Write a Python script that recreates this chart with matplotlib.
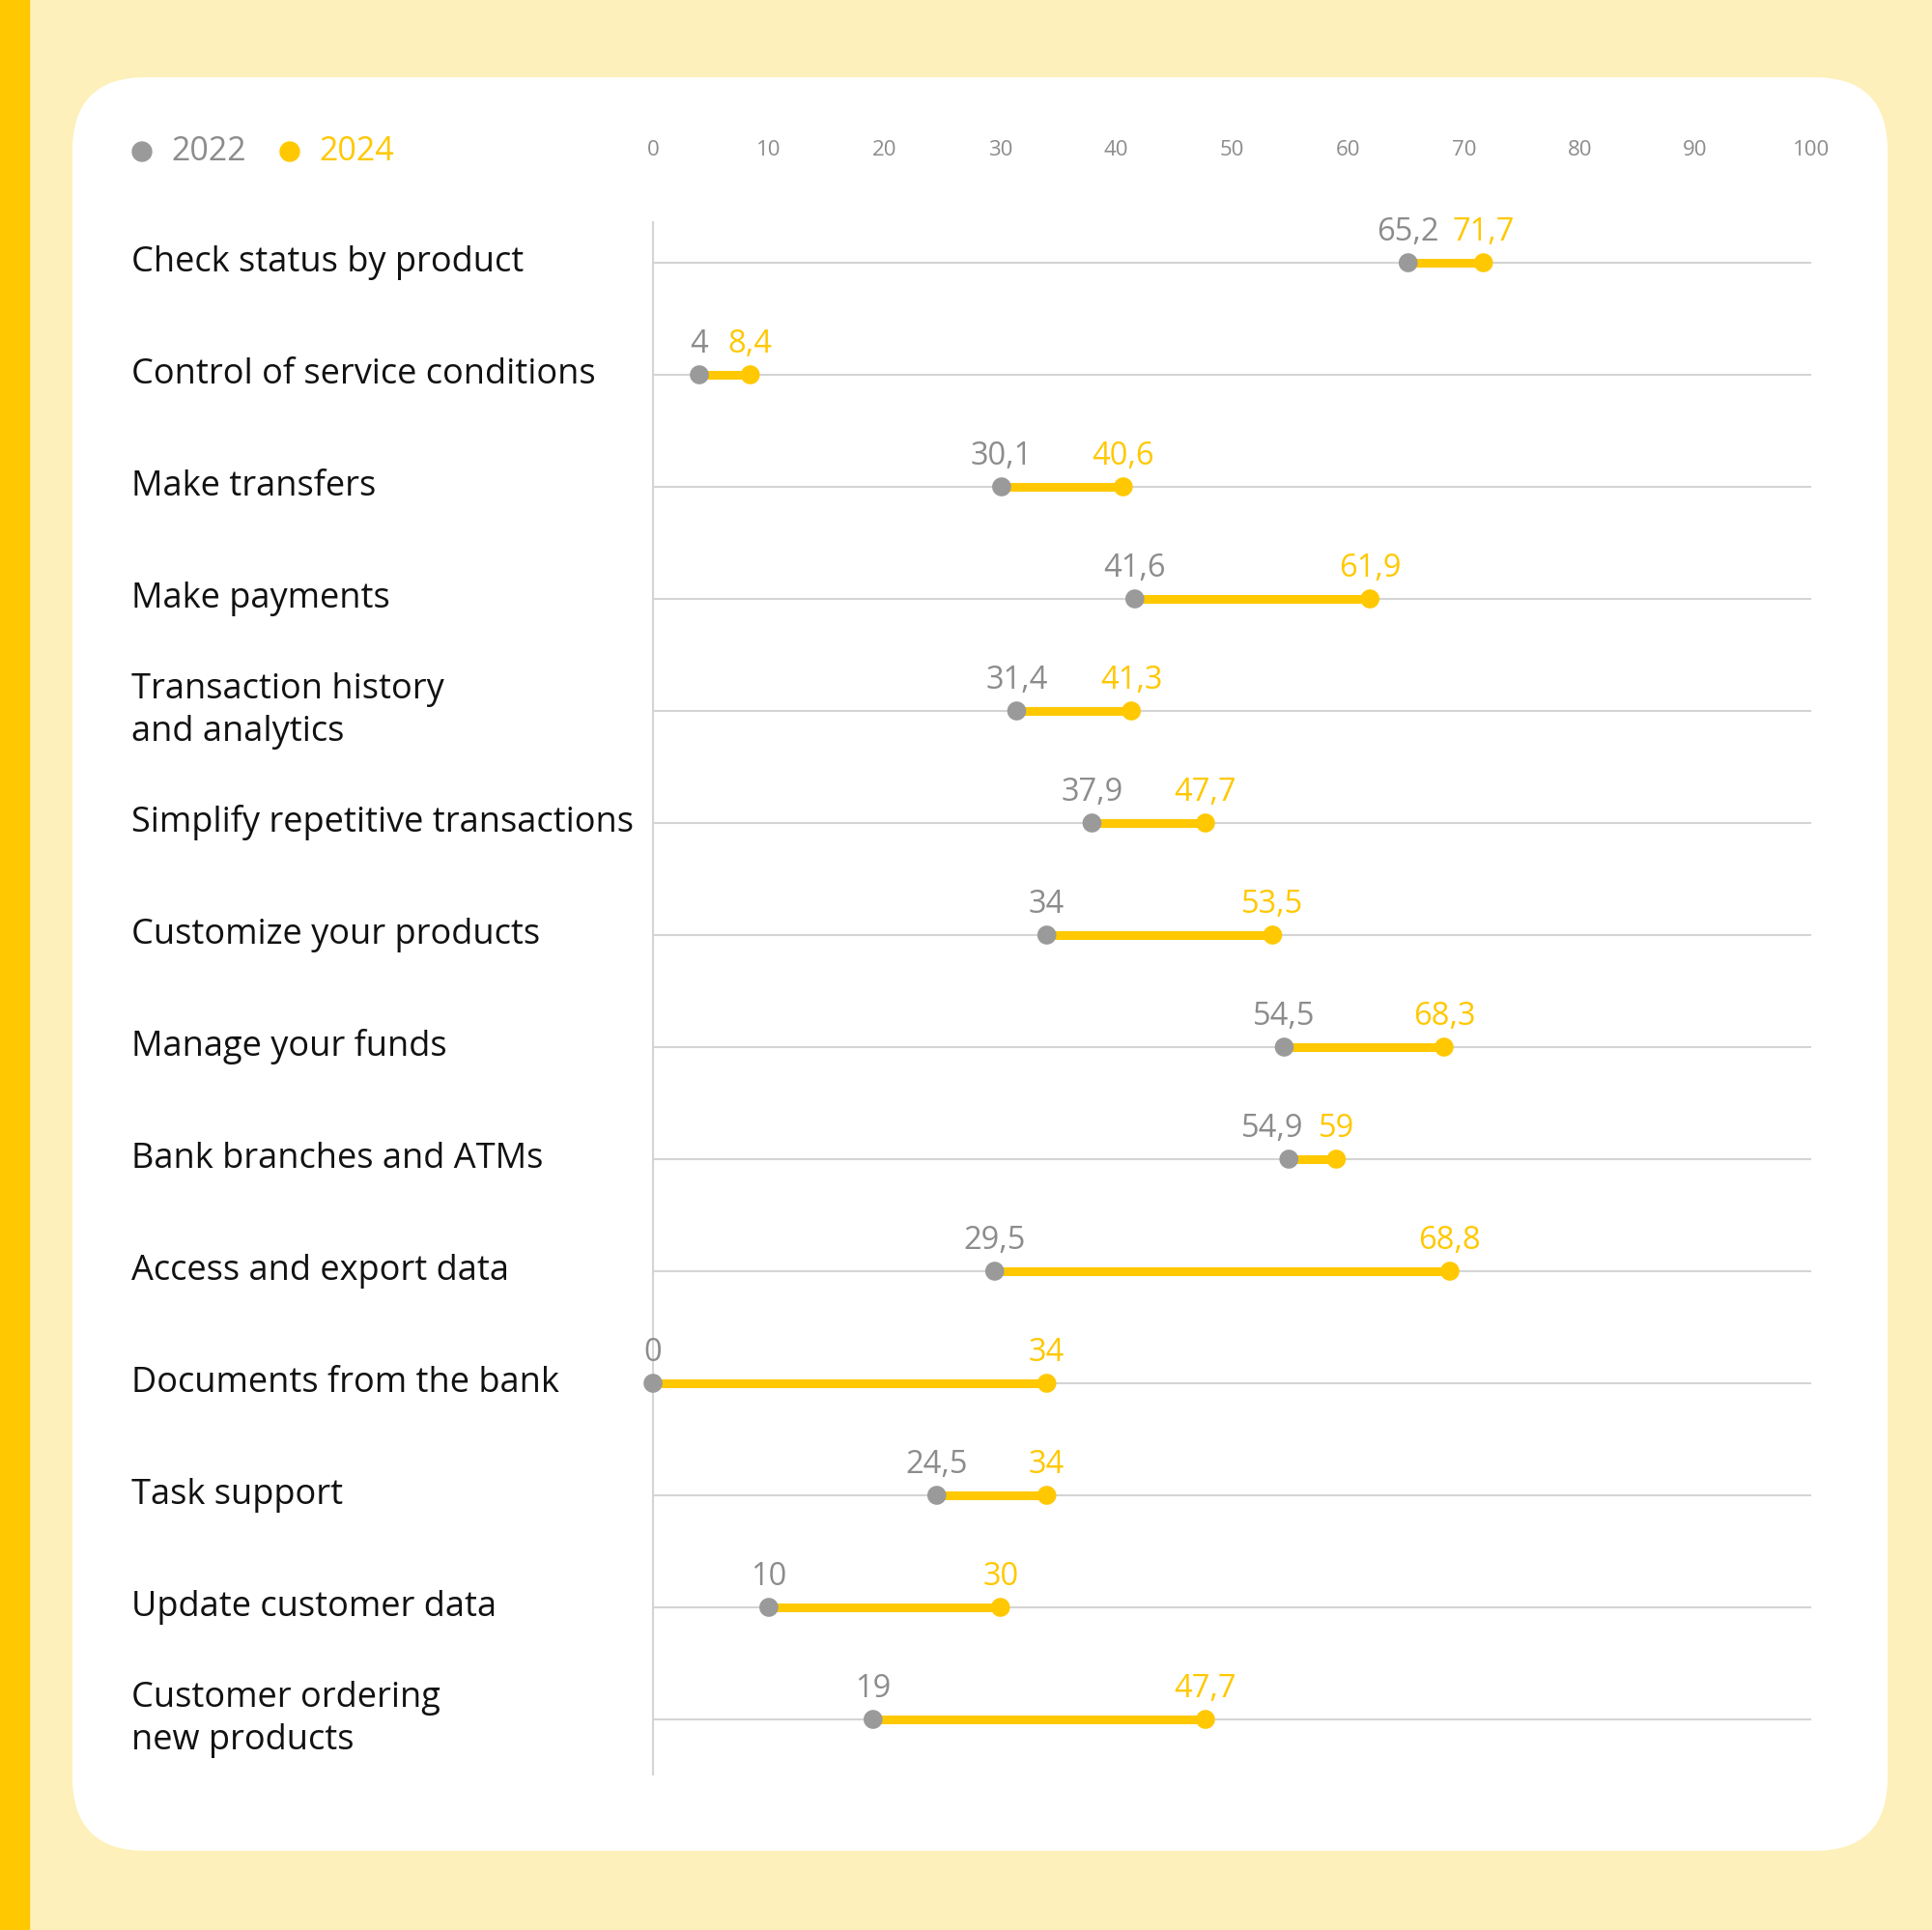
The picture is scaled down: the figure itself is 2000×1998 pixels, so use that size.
import matplotlib.pyplot as plt
from matplotlib.patches import FancyBboxPatch, Rectangle, Circle
from matplotlib.transforms import blended_transform_factory

categories = ['Check status by product', 'Control of service conditions', 'Make transfers',
              'Make payments', 'Transaction history\nand analytics', 'Simplify repetitive transactions',
              'Customize your products', 'Manage your funds', 'Bank branches and ATMs',
              'Access and export data', 'Documents from the bank', 'Task support',
              'Update customer data', 'Customer ordering\nnew products']
values_2022 = [65.2, 4, 30.1, 41.6, 31.4, 37.9, 34, 54.5, 54.9, 29.5, 0, 24.5, 10, 19]
values_2024 = [71.7, 8.4, 40.6, 61.9, 41.3, 47.7, 53.5, 68.3, 59, 68.8, 34, 34, 30, 47.7]
years = ['2022', '2024']
ticks = list(range(0, 101, 10))

YELLOW = '#FFC800'
GREY_DOT = '#9A9A9A'
GREY_TXT = '#8C8C8C'
BG = '#FEF0BB'
LINE = '#D4D4D4'

plt.rcParams['font.family'] = ['Open Sans', 'DejaVu Sans']

W, H = 2000, 1998
fig = plt.figure(figsize=(W / 100, H / 100), dpi=100)
fig.patch.set_facecolor(BG)

# left stripe and white card
fig.add_artist(Rectangle((0, 0), 30 / W, 1, transform=fig.transFigure, color=YELLOW, zorder=0))
card = FancyBboxPatch((75 / W, 1 - 1916 / H), (1954 - 75) / W, (1916 - 80) / H,
                      boxstyle='round,pad=0,rounding_size=0.038',
                      transform=fig.transFigure, facecolor='white', edgecolor='none', zorder=0)
fig.add_artist(card)

# axes area in pixels
x0, x1 = 676, 1875
ytop, ybot = 230, 1837
ax = fig.add_axes([x0 / W, 1 - ybot / H, (x1 - x0) / W, (ybot - ytop) / H])
ax.set_facecolor('none')
row0, step = 272, 116
ax.set_xlim(0, 100)
ax.set_ylim((ybot - row0) / step, (ytop - row0) / step)

for s in ['top', 'right', 'bottom']:
    ax.spines[s].set_visible(False)
ax.spines['left'].set_color(LINE)
ax.spines['left'].set_linewidth(1.5)
ax.set_yticks([])
ax.xaxis.tick_top()
ax.set_xticks(ticks)
ax.set_xticklabels([str(t) for t in ticks])
ax.tick_params(axis='x', length=0, pad=46, labelsize=16, labelcolor=GREY_TXT)

label_tr = blended_transform_factory(fig.transFigure, ax.transData)
for i, (cat, a, b) in enumerate(zip(categories, values_2022, values_2024)):
    la = f'{a:g}'.replace('.', ',')
    lb = f'{b:g}'.replace('.', ',')
    # push the grey label left when the two labels would collide
    dx = -12 if (b - a < 5 and len(la) > 2) else 0
    ax.plot([0, 100], [i, i], color=LINE, lw=1.5, zorder=1, solid_capstyle='butt')
    ax.plot([a, b], [i, i], color=YELLOW, lw=6.5, zorder=2, solid_capstyle='butt')
    ax.scatter([a], [i], s=200, color=GREY_DOT, zorder=3, edgecolors='none', clip_on=False)
    ax.scatter([b], [i], s=200, color=YELLOW, zorder=3, edgecolors='none', clip_on=False)
    ax.annotate(la, (a, i), xytext=(dx, 23), textcoords='offset points',
                ha='center', va='center', fontsize=23.5, color=GREY_TXT)
    ax.annotate(lb, (b, i), xytext=(0, 23), textcoords='offset points',
                ha='center', va='center', fontsize=23.5, color=YELLOW)
    ax.text(136 / W, i, cat, transform=label_tr, ha='left', va='center', fontsize=26,
            color='#111111', linespacing=1.3)

# legend
ly = 1 - 157 / H
fig.add_artist(Circle((147 / W, ly), 10 / W, transform=fig.transFigure, color=GREY_DOT))
fig.text(177 / W, ly, years[0], ha='left', va='center', fontsize=24.5, color=GREY_TXT)
fig.add_artist(Circle((300 / W, ly), 10 / W, transform=fig.transFigure, color=YELLOW))
fig.text(330 / W, ly, years[1], ha='left', va='center', fontsize=24.5, color=YELLOW)

fig.savefig('out.png', dpi=100, facecolor=BG)
